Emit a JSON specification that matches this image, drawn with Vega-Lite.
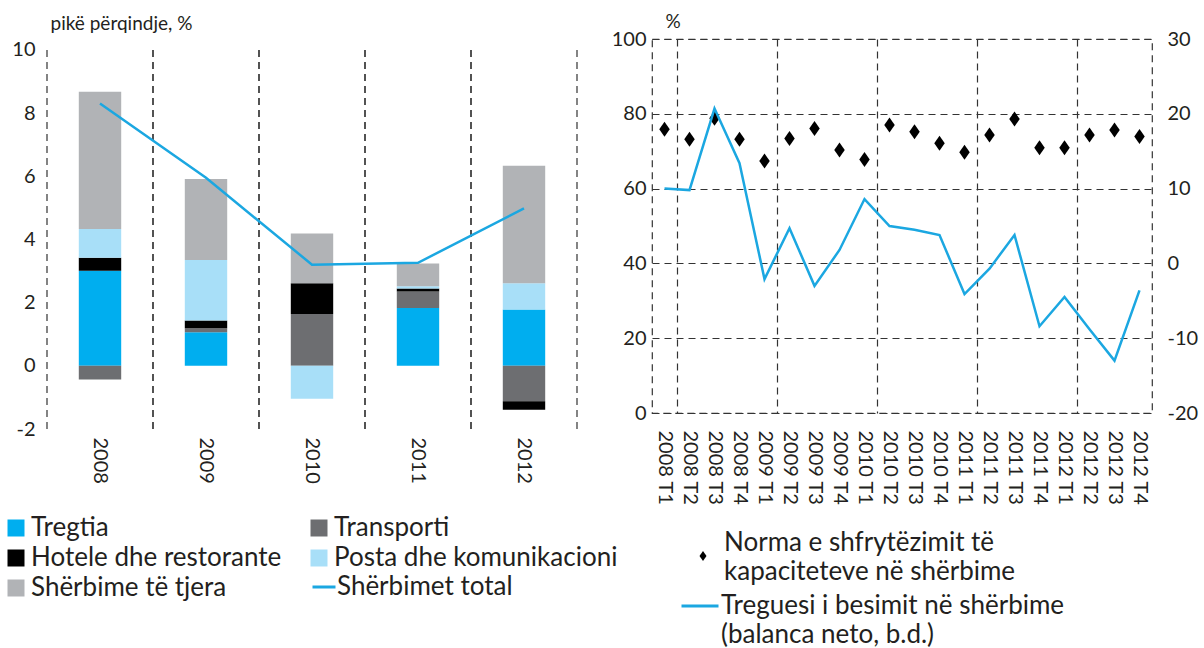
{
  "$schema": "https://vega.github.io/schema/vega-lite/v6.json",
  "padding": {"left": 3, "top": 11, "right": 0, "bottom": 0},
  "background": "white",
  "spacing": -8,
  "config": {
    "font": "Lato",
    "view": {"stroke": null},
    "style": {"guide-label": {"lineHeight": 29}},
    "axis": {
      "labelFont": "Lato", "labelColor": "#231F20", "titleColor": "#231F20",
      "titleFont": "Lato", "titleFontWeight": "normal",
      "gridColor": "#333333", "gridDash": [7, 5], "gridWidth": 1.2,
      "domain": false, "ticks": false
    },
    "legend": {"labelFont": "Lato", "labelColor": "#231F20", "padding": 0, "orient": "none", "title": null, "labelLimit": 0}
  },
  "resolve": {
    "scale": {"color": "independent", "stroke": "independent", "shape": "independent"},
    "legend": {"color": "independent", "stroke": "independent", "shape": "independent"}
  },
  "datasets": {
    "sectors": [
      {"year": "2008", "sector": "Tregtia", "value": 3.01},
      {"year": "2008", "sector": "Transporti", "value": -0.43},
      {"year": "2008", "sector": "Hotele dhe restorante", "value": 0.41},
      {"year": "2008", "sector": "Posta dhe komunikacioni", "value": 0.91},
      {"year": "2008", "sector": "Shërbime të tjera", "value": 4.34},
      {"year": "2009", "sector": "Tregtia", "value": 1.06},
      {"year": "2009", "sector": "Transporti", "value": 0.13},
      {"year": "2009", "sector": "Hotele dhe restorante", "value": 0.24},
      {"year": "2009", "sector": "Posta dhe komunikacioni", "value": 1.92},
      {"year": "2009", "sector": "Shërbime të tjera", "value": 2.56},
      {"year": "2010", "sector": "Tregtia", "value": 0},
      {"year": "2010", "sector": "Transporti", "value": 1.64},
      {"year": "2010", "sector": "Hotele dhe restorante", "value": 0.97},
      {"year": "2010", "sector": "Posta dhe komunikacioni", "value": -1.04},
      {"year": "2010", "sector": "Shërbime të tjera", "value": 1.58},
      {"year": "2011", "sector": "Tregtia", "value": 1.83},
      {"year": "2011", "sector": "Transporti", "value": 0.52},
      {"year": "2011", "sector": "Hotele dhe restorante", "value": 0.10},
      {"year": "2011", "sector": "Posta dhe komunikacioni", "value": 0.07},
      {"year": "2011", "sector": "Shërbime të tjera", "value": 0.72},
      {"year": "2012", "sector": "Tregtia", "value": 1.78},
      {"year": "2012", "sector": "Transporti", "value": -1.12},
      {"year": "2012", "sector": "Hotele dhe restorante", "value": -0.27},
      {"year": "2012", "sector": "Posta dhe komunikacioni", "value": 0.83},
      {"year": "2012", "sector": "Shërbime të tjera", "value": 3.72}
    ],
    "total": [
      {"year": "2008", "total": 8.30},
      {"year": "2009", "total": 5.95},
      {"year": "2010", "total": 3.20},
      {"year": "2011", "total": 3.26},
      {"year": "2012", "total": 4.98}
    ],
    "quarters": [
      {"q": "2008 T1", "norma": 75.9, "besimi": 10.0},
      {"q": "2008 T2", "norma": 73.2, "besimi": 9.8},
      {"q": "2008 T3", "norma": 78.8, "besimi": 20.7},
      {"q": "2008 T4", "norma": 73.2, "besimi": 13.4},
      {"q": "2009 T1", "norma": 67.4, "besimi": -2.1},
      {"q": "2009 T2", "norma": 73.4, "besimi": 4.7},
      {"q": "2009 T3", "norma": 76.1, "besimi": -3.0},
      {"q": "2009 T4", "norma": 70.3, "besimi": 1.8},
      {"q": "2010 T1", "norma": 67.8, "besimi": 8.6},
      {"q": "2010 T2", "norma": 77.0, "besimi": 5.0},
      {"q": "2010 T3", "norma": 75.2, "besimi": 4.5},
      {"q": "2010 T4", "norma": 72.1, "besimi": 3.8},
      {"q": "2011 T1", "norma": 69.7, "besimi": -4.1},
      {"q": "2011 T2", "norma": 74.3, "besimi": -0.7},
      {"q": "2011 T3", "norma": 78.6, "besimi": 3.8},
      {"q": "2011 T4", "norma": 70.9, "besimi": -8.4},
      {"q": "2012 T1", "norma": 70.9, "besimi": -4.5},
      {"q": "2012 T2", "norma": 74.3, "besimi": -8.8},
      {"q": "2012 T3", "norma": 75.7, "besimi": -13.0},
      {"q": "2012 T4", "norma": 73.9, "besimi": -3.6}
    ]
  },
  "hconcat": [
    {
      "width": 530,
      "height": 390,
      "layer": [
        {
          "data": {"name": "total"},
          "mark": {"type": "rule", "color": "#333333", "strokeDash": [7, 5], "strokeWidth": 1.2},
          "encoding": {
            "x": {"field": "year", "type": "nominal", "bandPosition": 0,
              "axis": {"title": null, "labelAngle": 90, "labelFontSize": 20, "labelPadding": 8, "grid": false}},
            "y": {"datum": -2, "type": "quantitative",
              "axis": {"values": [-2, 0, 2, 4, 6, 8, 10], "labelExpr": "replace(datum.label, '−', '-')", "title": "           pikë përqindje, %", "titleAngle": 0, "titleAlign": "left", "titleBaseline": "alphabetic", "titleX": 3, "titleY": -10, "titleFontSize": 19, "labelFontSize": 20, "labelPadding": 12, "gridColor": {"condition": {"test": "datum.value === 0", "value": "#9a9a9a"}, "value": "#333333"}}},
            "y2": {"datum": 10}
          }
        },
        {
          "data": {"name": "total"},
          "mark": {"type": "rule", "color": "#333333", "strokeDash": [7, 5], "strokeWidth": 1.2},
          "encoding": {
            "x": {"field": "year", "type": "nominal", "bandPosition": 1,
              "axis": {"title": null, "labelAngle": 90, "labelFontSize": 20, "labelPadding": 8, "grid": false}},
            "y": {"datum": -2, "type": "quantitative",
              "axis": {"values": [-2, 0, 2, 4, 6, 8, 10], "labelExpr": "replace(datum.label, '−', '-')", "title": "           pikë përqindje, %", "titleAngle": 0, "titleAlign": "left", "titleBaseline": "alphabetic", "titleX": 3, "titleY": -10, "titleFontSize": 19, "labelFontSize": 20, "labelPadding": 12, "gridColor": {"condition": {"test": "datum.value === 0", "value": "#9a9a9a"}, "value": "#333333"}}},
            "y2": {"datum": 10}
          }
        },
        {
          "data": {"name": "sectors"},
          "transform": [
            {"calculate": "indexof(['Tregtia', 'Transporti', 'Hotele dhe restorante', 'Posta dhe komunikacioni', 'Shërbime të tjera'], datum.sector)", "as": "ord"}
          ],
          "mark": {"type": "bar", "width": {"band": 0.4}},
          "encoding": {
            "x": {
              "field": "year", "type": "nominal",
              "scale": {"type": "band", "paddingInner": 0, "paddingOuter": 0},
              "axis": {"title": null, "labelAngle": 90, "labelFontSize": 20, "labelPadding": 8, "grid": false}
            },
            "y": {
              "field": "value", "type": "quantitative", "stack": "zero",
              "scale": {"domain": [-2, 10.342], "nice": false},
              "axis": {"values": [-2, 0, 2, 4, 6, 8, 10], "labelExpr": "replace(datum.label, '−', '-')", "title": "           pikë përqindje, %", "titleAngle": 0, "titleAlign": "left", "titleBaseline": "alphabetic", "titleX": 3, "titleY": -10, "titleFontSize": 19, "labelFontSize": 20, "labelPadding": 12, "gridColor": {"condition": {"test": "datum.value === 0", "value": "#9a9a9a"}, "value": "#333333"}}
            },
            "order": {"field": "ord", "type": "quantitative"},
            "color": {
              "field": "sector", "type": "nominal",
              "scale": {
                "domain": ["Tregtia", "Transporti", "Hotele dhe restorante", "Posta dhe komunikacioni", "Shërbime të tjera"],
                "range": ["#00AEEF", "#6D6E71", "#000000", "#A8DFF8", "#B1B3B6"]
              },
              "legend": {
                "direction": "horizontal", "columns": 2, "columnPadding": 24, "rowPadding": 4,
                "symbolType": "square", "symbolSize": 289, "symbolStrokeWidth": 0,
                "labelFontSize": 26, "labelOffset": 2,
                "legendX": -44, "legendY": 476
              }
            }
          }
        },
        {
          "data": {"name": "total"},
          "mark": {"type": "line", "strokeWidth": 2.5},
          "encoding": {
            "x": {"field": "year", "type": "nominal", "bandPosition": 0.5,
              "axis": {"title": null, "labelAngle": 90, "labelFontSize": 20, "labelPadding": 8, "grid": false}},
            "y": {"field": "total", "type": "quantitative",
              "axis": {"values": [-2, 0, 2, 4, 6, 8, 10], "labelExpr": "replace(datum.label, '−', '-')", "title": "           pikë përqindje, %", "titleAngle": 0, "titleAlign": "left", "titleBaseline": "alphabetic", "titleX": 3, "titleY": -10, "titleFontSize": 19, "labelFontSize": 20, "labelPadding": 12, "gridColor": {"condition": {"test": "datum.value === 0", "value": "#9a9a9a"}, "value": "#333333"}}},
            "stroke": {
              "datum": "Shërbimet total",
              "scale": {"range": ["#1BA7E1"]},
              "legend": {
                "symbolType": "stroke", "symbolSize": 529, "symbolStrokeWidth": 3,
                "labelFontSize": 26, "labelOffset": 0,
                "legendX": 264, "legendY": 535
              }
            }
          }
        }
      ]
    },
    {
      "width": 500,
      "height": 374,
      "view": {"stroke": "#333333", "strokeDash": [7, 5], "strokeWidth": 1.2},
      "data": {"name": "quarters"},
      "layer": [
        {
          "mark": {"type": "point", "filled": true, "color": "#000000", "opacity": 1, "size": 225},
          "encoding": {
            "x": {
              "field": "q", "type": "nominal", "sort": null, "bandPosition": 0.5,
              "scale": {"type": "band", "paddingInner": 0, "paddingOuter": 0},
              "axis": {
                "title": null, "labelAngle": 90, "labelFontSize": 20, "labelPadding": 17,
                "grid": true, "tickBand": "extent",
                "gridOpacity": {"condition": {"test": "indexof('' + datum.value, 'T1') >= 0", "value": 1}, "value": 0}
              }
            },
            "y": {
              "field": "norma", "type": "quantitative",
              "scale": {"domain": [0, 100], "nice": false},
              "axis": {
                "values": [0, 20, 40, 60, 80, 100],
                "title": "%", "titleAngle": 0, "titleAlign": "left", "titleBaseline": "alphabetic",
                "titleX": 13, "titleY": -12, "titleFontSize": 19,
                "labelFontSize": 20, "labelPadding": 6
              }
            },
            "shape": {
              "datum": "Norma e shfrytëzimit të|kapaciteteve në shërbime",
              "scale": {"range": ["M0,-1L0.7,0L0,1L-0.7,0Z"]},
              "legend": {
                "symbolSize": 100, "symbolFillColor": "#000000", "symbolStrokeWidth": 0,
                "labelFontSize": 26, "labelOffset": 8, "labelBaseline": "bottom",
                "labelExpr": "split(datum.label, '|')",
                "legendX": 38, "legendY": 504
              }
            }
          }
        },
        {
          "mark": {"type": "line", "strokeWidth": 2.5},
          "encoding": {
            "x": {"field": "q", "type": "nominal", "sort": null, "bandPosition": 0.5},
            "y": {
              "field": "besimi", "type": "quantitative",
              "scale": {"domain": [-20, 30], "nice": false},
              "axis": {
                "orient": "right", "values": [-20, -10, 0, 10, 20, 30], "grid": false, "title": null,
                "labelExpr": "replace(datum.label, '−', '-')",
                "labelFontSize": 20, "labelPadding": 15
              }
            },
            "stroke": {
              "datum": "Treguesi i besimit në shërbime|(balanca neto, b.d.)",
              "scale": {"range": ["#1BA7E1"]},
              "legend": {
                "symbolType": "stroke", "symbolSize": 1369, "symbolStrokeWidth": 3,
                "labelFontSize": 26, "labelOffset": 1,
                "labelExpr": "split(datum.label, '|')",
                "legendX": 28, "legendY": 547
              }
            }
          }
        }
      ],
      "resolve": {"scale": {"y": "independent"}}
    }
  ]
}
